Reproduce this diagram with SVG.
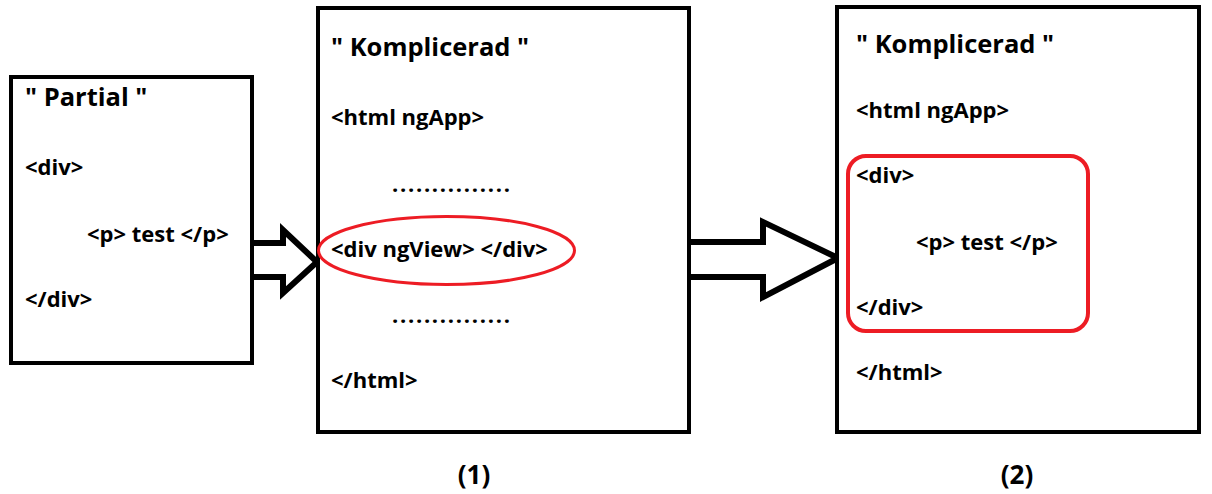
<svg xmlns="http://www.w3.org/2000/svg" width="1212" height="494" viewBox="0 0 1212 494">
<style>
.box{fill:#fff;stroke:#000;stroke-width:4}
.t{font-family:"Open Sans","Liberation Sans",sans-serif;font-weight:bold;font-size:22px;fill:#000}
.h{font-size:25.5px}
.d{letter-spacing:1.7px}
.lab{font-size:26px}
.red{fill:none;stroke:#ed1c24}
.arrow{fill:#fff;stroke:#000;stroke-width:6;stroke-linejoin:miter}
</style>
<rect width="1212" height="494" fill="#fff"/>
<g id="connectors">
<path class="arrow" d="M252,243 H283 V230 L317,262 L283,293 V277 H252"/>
<path class="arrow" d="M689,242 H763 V222 L838,258 L763,297 V277 H689"/>
</g>
<g id="partial">
<rect class="box" x="11" y="77" width="241" height="286"/>
<text class="t h" x="25" y="106">" Partial "</text>
<text class="t" x="25" y="175">&lt;div&gt;</text>
<text class="t" x="87" y="242">&lt;p&gt; test &lt;/p&gt;</text>
<text class="t" x="25" y="307">&lt;/div&gt;</text>
</g>
<g id="komplicerad1">
<rect class="box" x="318" y="8" width="371" height="424"/>
<text class="t h" x="331" y="56">" Komplicerad "</text>
<text class="t" x="331" y="125">&lt;html ngApp&gt;</text>
<text class="t d" x="392" y="192">...............</text>
<ellipse class="red" cx="446.5" cy="250.5" rx="128" ry="34" stroke-width="3"/>
<text class="t" x="331" y="257">&lt;div ngView&gt; &lt;/div&gt;</text>
<text class="t d" x="392" y="323">...............</text>
<text class="t" x="331" y="388">&lt;/html&gt;</text>
</g>
<g id="komplicerad2">
<rect class="box" x="837" y="7" width="362" height="425"/>
<text class="t h" x="856" y="53">" Komplicerad "</text>
<text class="t" x="856" y="118">&lt;html ngApp&gt;</text>
<rect class="red" x="848" y="156" width="240" height="175" rx="18" stroke-width="4"/>
<text class="t" x="856" y="183">&lt;div&gt;</text>
<text class="t" x="916" y="250">&lt;p&gt; test &lt;/p&gt;</text>
<text class="t" x="856" y="315">&lt;/div&gt;</text>
<text class="t" x="856" y="380">&lt;/html&gt;</text>
</g>
<g id="labels">
<text class="t lab" x="474" y="484" text-anchor="middle">(1)</text>
<text class="t lab" x="1017" y="484" text-anchor="middle">(2)</text>
</g>
</svg>
